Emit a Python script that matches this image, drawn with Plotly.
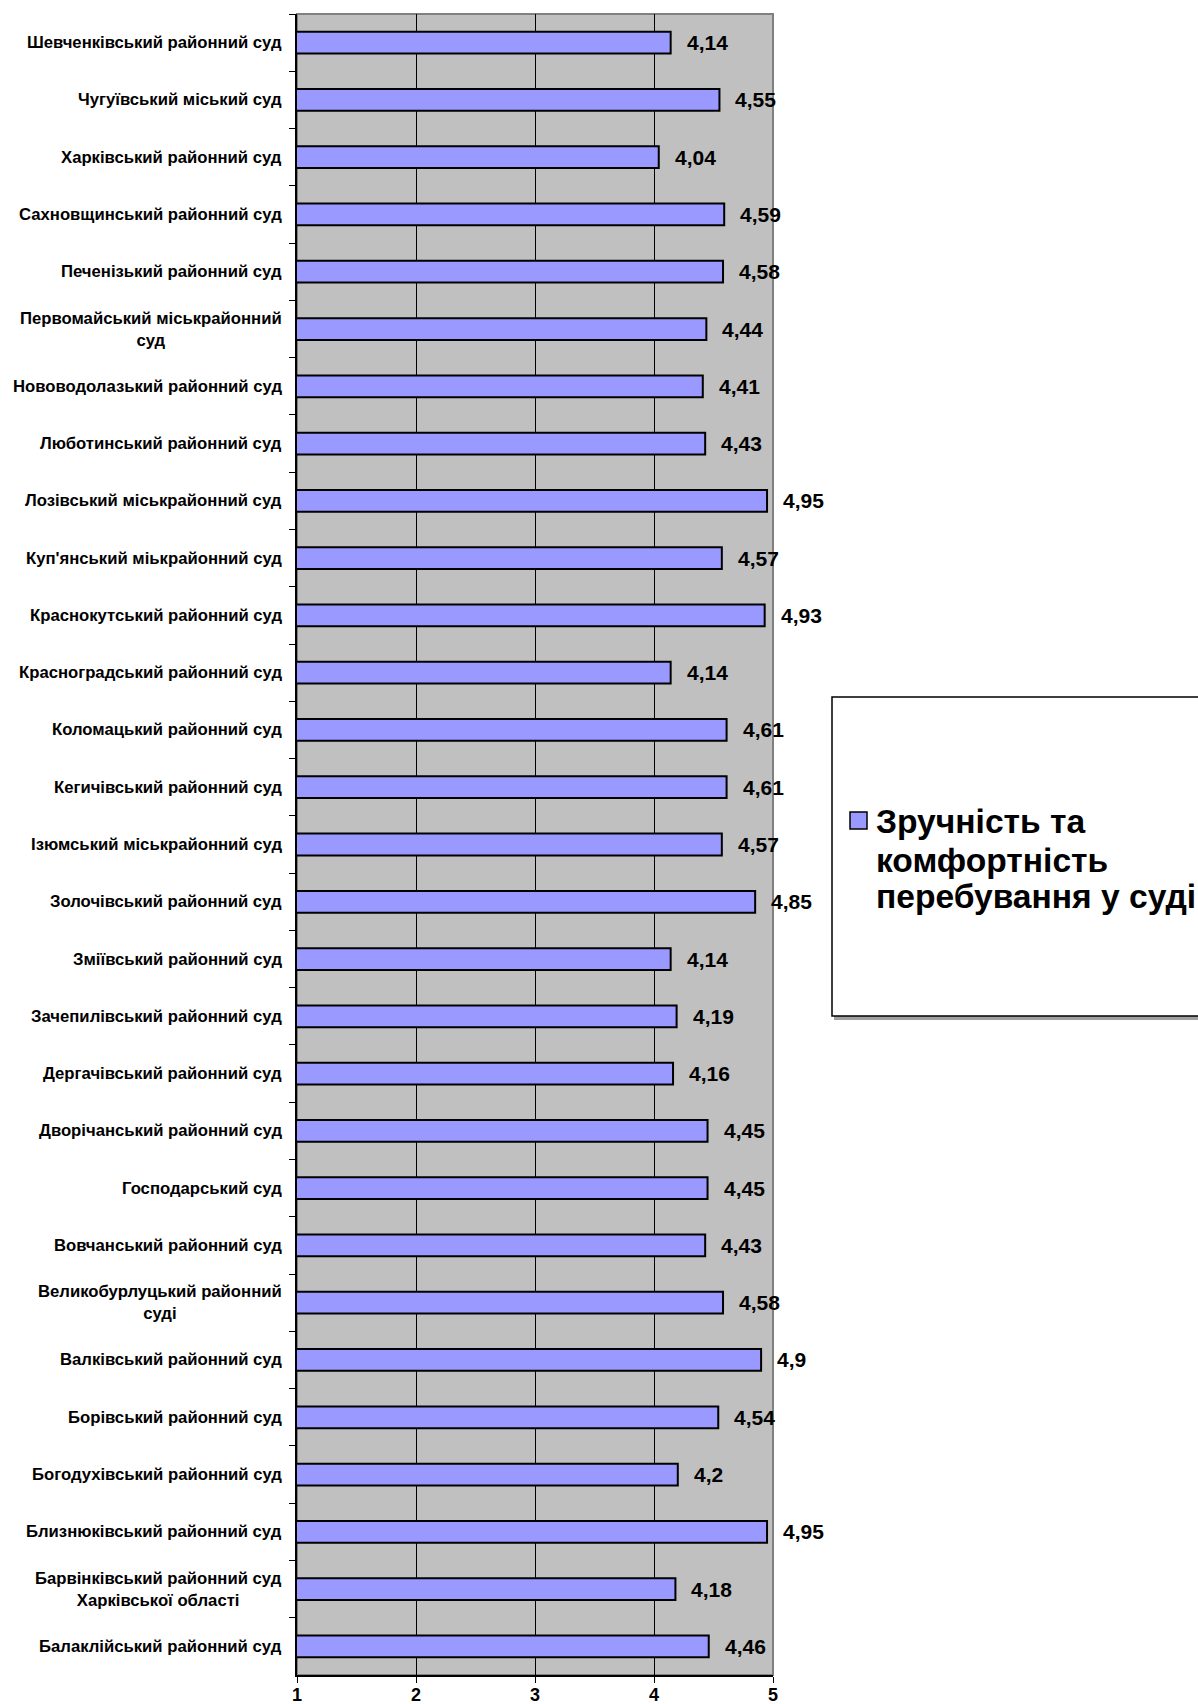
import plotly.graph_objects as go

courts = [
    "Шевченківський районний суд",
    "Чугуївський міський суд",
    "Харківський районний суд",
    "Сахновщинський районний суд",
    "Печенізький районний суд",
    "Первомайський міськрайонний<br>суд",
    "Нововодолазький районний суд",
    "Люботинський районний суд",
    "Лозівський міськрайонний суд",
    "Куп'янський міькрайонний суд",
    "Краснокутський районний суд",
    "Красноградський районний суд",
    "Коломацький районний суд",
    "Кегичівський районний суд",
    "Ізюмський міськрайонний суд",
    "Золочівський районний суд",
    "Зміївський районний суд",
    "Зачепилівський районний суд",
    "Дергачівський районний суд",
    "Дворічанський районний суд",
    "Господарський суд",
    "Вовчанський районний суд",
    "Великобурлуцький районний<br>суді",
    "Валківський районний суд",
    "Борівський районний суд",
    "Богодухівський районний суд",
    "Близнюківський районний суд",
    "Барвінківський районний суд<br>Харківської області",
    "Балаклійський районний суд",
]
scores = [4.14, 4.55, 4.04, 4.59, 4.58, 4.44, 4.41, 4.43, 4.95, 4.57,
          4.93, 4.14, 4.61, 4.61, 4.57, 4.85, 4.14, 4.19, 4.16, 4.45,
          4.45, 4.43, 4.58, 4.9, 4.54, 4.2, 4.95, 4.18, 4.46]
series_name = "Зручність та<br>комфортність<br>перебування у суді"
x_ticks = [1, 2, 3, 4, 5]

W, H = 1198, 1704
L, R, T, B = 297, 773, 14, 1675
BAR_COLOR = "#9999FF"
FONT = "Liberation Sans, Arial, sans-serif"


def px_x(p):
    return (p - L) / (R - L)


def px_y(p):
    return (B - p) / (B - T)


def fmt(v):
    return ("%g" % v).replace(".", ",")


fig = go.Figure()
fig.add_trace(go.Bar(
    x=scores, y=courts, orientation="h", name=series_name.replace("<br>", " "),
    marker=dict(color=BAR_COLOR, line=dict(color="black", width=2)),
    width=0.38, showlegend=False, hoverinfo="x+y",
))

annotations = []
for c in courts:
    annotations.append(dict(
        x=0, xref="paper", y=c, yref="y", text=c, showarrow=False,
        xanchor="right", yanchor="middle", xshift=-13, align="center",
        font=dict(family=FONT, size=16.7, color="black", weight="bold"),
    ))
for c, v in zip(courts, scores):
    annotations.append(dict(
        x=v, xref="x", y=c, yref="y", text=fmt(v), showarrow=False,
        xanchor="left", yanchor="middle", xshift=14,
        font=dict(family=FONT, size=21, color="black", weight="bold"),
    ))

# legend drawn manually (box cut at the right edge, like the reference)
legend_lines = series_name.split("<br>")
line_y = [822, 860, 897]
for txt, yy in zip(legend_lines, line_y):
    annotations.append(dict(
        x=px_x(874), xref="paper", y=px_y(yy), yref="paper", text=txt,
        showarrow=False, xanchor="left", yanchor="middle",
        font=dict(family=FONT, size=33.6, color="black", weight="bold"),
    ))

shapes = [
    # plot frame (gray top/right)
    dict(type="rect", xref="paper", yref="paper", x0=0, x1=1, y0=0, y1=1,
         line=dict(color="#808080", width=2), fillcolor="rgba(0,0,0,0)", layer="below"),
    # legend shadow
    dict(type="rect", xref="paper", yref="paper",
         x0=px_x(835), x1=px_x(1215), y0=px_y(1019), y1=px_y(700),
         line=dict(color="#A0A0A0", width=2), fillcolor="#A0A0A0", layer="above"),
    # legend box
    dict(type="rect", xref="paper", yref="paper",
         x0=px_x(832), x1=px_x(1212), y0=px_y(1016), y1=px_y(697),
         line=dict(color="black", width=1.5), fillcolor="white", layer="above"),
    # legend key
    dict(type="rect", xref="paper", yref="paper",
         x0=px_x(850), x1=px_x(867), y0=px_y(829), y1=px_y(812),
         line=dict(color="black", width=1.5), fillcolor=BAR_COLOR, layer="above"),
]

fig.update_layout(
    width=W, height=H, autosize=False,
    margin=dict(l=L, r=W - R, t=T, b=H - B, pad=0, autoexpand=False),
    paper_bgcolor="white", plot_bgcolor="#C0C0C0",
    font=dict(family=FONT, color="black"),
    annotations=annotations, shapes=shapes,
    xaxis=dict(
        range=[1, 5], tickvals=x_ticks, ticktext=[str(t) for t in x_ticks],
        showgrid=True, gridcolor="black", gridwidth=1,
        showline=True, linecolor="black", linewidth=1.5,
        ticks="outside", ticklen=6, tickcolor="black", tickwidth=1,
        tickfont=dict(family=FONT, size=18, color="black", weight="bold"),
        ticklabelstandoff=-3,
        zeroline=False, fixedrange=True, automargin=False,
    ),
    yaxis=dict(
        type="category", categoryorder="array", categoryarray=courts,
        autorange="reversed", showticklabels=False, showgrid=False,
        showline=True, linecolor="black", linewidth=1.5,
        ticks="outside", ticklen=6, tickcolor="black", tickson="boundaries",
        zeroline=False, fixedrange=True, automargin=False,
    ),
)

fig.write_html(
    "out.html",
    config={"displayModeBar": False},
    post_script="document.body.style.margin='0';document.body.style.overflow='hidden';",
)
